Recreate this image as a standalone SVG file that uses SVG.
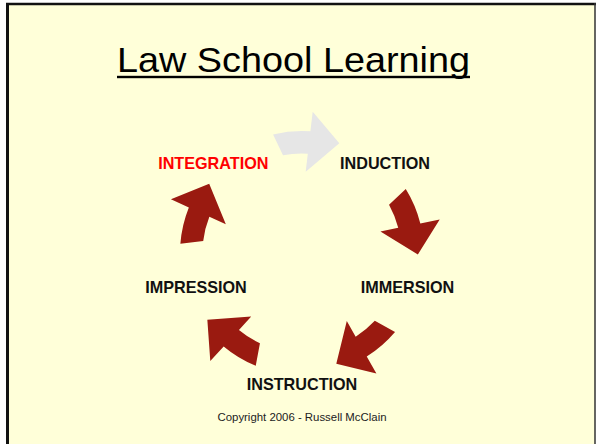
<svg xmlns="http://www.w3.org/2000/svg" xmlns:xlink="http://www.w3.org/1999/xlink" width="596" height="444" viewBox="0 0 596 444">
<style>
.lbl{font-family:"Liberation Sans",Arial,sans-serif;font-weight:bold;font-size:16.2px;fill:#111;text-anchor:middle}
.title{font-family:"Liberation Sans",Arial,sans-serif;font-size:35px;fill:#000;text-anchor:middle}
.copy{font-family:"Liberation Sans",Arial,sans-serif;font-size:11.4px;fill:#222;text-anchor:middle}
.red{fill:#9A1A10}
.gray{fill:#E6E6E6}
</style>
<defs>
<path id="arr" d="M 273.1,134.5 A 122 122 0 0 1 310.4,131.3 L 312.7,111.7 L 339.3,143.3 L 305.7,171.7 L 307.8,153.7 A 99.5 99.5 0 0 0 283.0,155.3 Z"/>
</defs>
<rect x="0" y="0" width="596" height="444" fill="#FFFFFF"/>
<rect x="8" y="4" width="587" height="445" fill="#FFFFD9"/>
<line x1="7.5" y1="3" x2="7.5" y2="444" stroke="#111" stroke-width="3"/>
<line x1="6" y1="4" x2="596" y2="4" stroke="#111" stroke-width="2.4"/>
<line x1="595" y1="3" x2="595" y2="444" stroke="#333" stroke-width="1.5"/>
<g id="title">
<text class="title" x="293.5" y="72" textLength="353" lengthAdjust="spacingAndGlyphs">Law School Learning</text>
<rect x="117" y="75.8" width="353" height="2.4" fill="#000"/>
</g>
<g id="connectors">
<use xlink:href="#arr" class="gray"/>
<use xlink:href="#arr" class="red" transform="rotate(72 302 253)"/>
<use xlink:href="#arr" class="red" transform="rotate(144 302 253)"/>
<use xlink:href="#arr" class="red" transform="rotate(216 302 253)"/>
<use xlink:href="#arr" class="red" transform="rotate(288 302 253)"/>
</g>
<g id="integration"><text class="lbl" x="213.3" y="169" style="fill:#FF0000">INTEGRATION</text></g>
<g id="induction"><text class="lbl" x="385" y="169">INDUCTION</text></g>
<g id="immersion"><text class="lbl" x="407.5" y="293">IMMERSION</text></g>
<g id="instruction"><text class="lbl" x="302" y="390">INSTRUCTION</text></g>
<g id="impression"><text class="lbl" x="196" y="293">IMPRESSION</text></g>
<g id="copyright"><text class="copy" x="302" y="420.7">Copyright 2006 - Russell McClain</text></g>
</svg>
